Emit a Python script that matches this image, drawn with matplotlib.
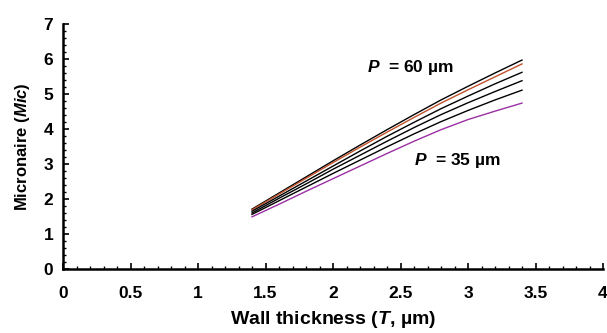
import matplotlib
matplotlib.use("Agg")
import matplotlib.pyplot as plt
from matplotlib.ticker import MultipleLocator

plt.rcParams['font.family'] = ['Liberation Sans', 'DejaVu Sans']
plt.rcParams['font.weight'] = 'bold'
plt.rcParams['mathtext.fontset'] = 'custom'
plt.rcParams['mathtext.rm'] = 'Liberation Sans:bold'
plt.rcParams['mathtext.bf'] = 'Liberation Sans:bold'
plt.rcParams['mathtext.it'] = 'Liberation Sans:bold:italic'
plt.rcParams['mathtext.bfit'] = 'Liberation Sans:bold:italic'

# Data
T = [1.4, 1.6, 1.8, 2.0, 2.2, 2.4, 2.6, 2.8, 3.0, 3.2, 3.4]
mic_p60 = [1.71, 2.17, 2.63, 3.09, 3.54, 3.98, 4.41, 4.83, 5.22, 5.60, 5.97]
mic_p55 = [1.69, 2.14, 2.59, 3.04, 3.48, 3.91, 4.33, 4.74, 5.12, 5.49, 5.86]
mic_p50 = [1.65, 2.08, 2.51, 2.94, 3.37, 3.79, 4.19, 4.58, 4.94, 5.29, 5.62]
mic_p45 = [1.60, 2.02, 2.43, 2.85, 3.25, 3.65, 4.04, 4.41, 4.75, 5.07, 5.38]
mic_p40 = [1.56, 1.95, 2.34, 2.73, 3.11, 3.49, 3.86, 4.21, 4.53, 4.83, 5.11]
mic_p35 = [1.49, 1.85, 2.22, 2.58, 2.94, 3.30, 3.65, 3.98, 4.27, 4.51, 4.74]

series = [
    (mic_p60, '#000000'),
    (mic_p55, '#C0502A'),
    (mic_p50, '#000000'),
    (mic_p45, '#000000'),
    (mic_p40, '#000000'),
    (mic_p35, '#9B2FA3'),
]

fig = plt.figure(figsize=(6.07, 3.33), dpi=100)
ax = fig.add_axes([63/607, 64/333, 540/607, 245/333])

for vals, c in series:
    ax.plot(T, vals, color=c, lw=1.0)

ax.set_xlim(0, 4)
ax.set_ylim(0, 7)
ax.xaxis.set_minor_locator(MultipleLocator(0.1))
ax.yaxis.set_major_locator(MultipleLocator(1))
ax.yaxis.set_minor_locator(MultipleLocator(0.2))
ax.set_xticks([0, 0.5, 1, 1.5, 2, 2.5, 3, 3.5, 4])
ax.set_xticklabels(['0', '0.5', '1', '1.5', '2', '2.5', '3', '3.5', '4'])

for s in ['top', 'right']:
    ax.spines[s].set_visible(False)
for s in ['left', 'bottom']:
    ax.spines[s].set_linewidth(1.8)
ax.tick_params(which='major', direction='in', length=4, width=1.2, labelsize=12.5)
ax.tick_params(which='minor', direction='in', length=2.5, width=1.0)
ax.tick_params(axis='x', which='major', pad=12)
ax.tick_params(axis='y', which='major', pad=7)
for lab in ax.get_xticklabels() + ax.get_yticklabels():
    lab.set_fontweight('bold')

ax.set_xlabel(r'Wall thickness ($\mathit{T}$, µm)', fontsize=14, fontweight='bold', labelpad=6)
ax.set_ylabel(r'Micronaire ($\mathit{Mic}$)', fontsize=12, fontweight='bold', labelpad=8)

ax.text(2.25, 5.77, r'$\mathit{P}$  = 60 µm', fontsize=12.5, fontweight='bold', va='center', ha='left')
ax.text(2.60, 3.11, r'$\mathit{P}$  = 35 µm', fontsize=12.5, fontweight='bold', va='center', ha='left')

fig.savefig('out.png', dpi=100)
